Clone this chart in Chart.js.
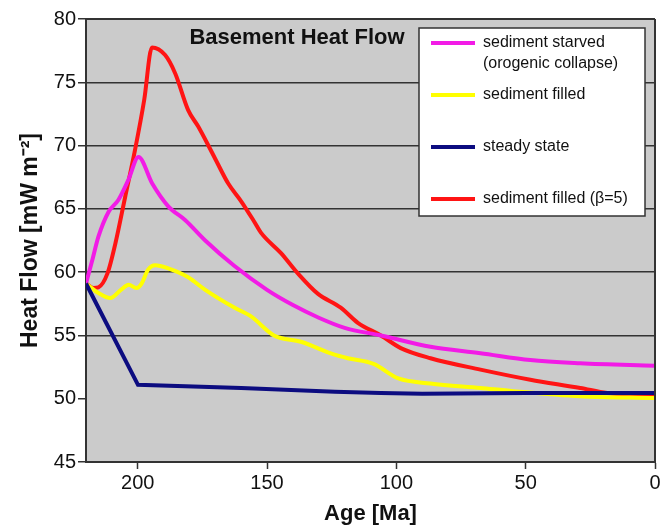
<!DOCTYPE html>
<html><head><meta charset="utf-8">
<script src="https://cdn.jsdelivr.net/npm/chart.js@4.4.1/dist/chart.umd.min.js"></script>
<style>html,body{margin:0;padding:0;background:#fff;}#wrap{width:672px;height:527px;position:relative}</style>
</head><body><div id="wrap"><canvas id="c" width="672" height="527"></canvas></div>
<script>
// ---- data ----
const chartTitle = 'Basement Heat Flow';
const xTitle = 'Age [Ma]';
const yTitle = 'Heat Flow [mW m\u207B\u00B2]';
const xTicks = [200, 150, 100, 50, 0];
const yTicks = [45, 50, 55, 60, 65, 70, 75, 80];

const starvedLabel = ['sediment starved', '(orogenic collapse)'];
const starvedAge = [220, 217.5, 215.2, 211.3, 207.5, 203.6, 199.7, 194.4, 188.2, 181.6, 173.9, 162.7, 150, 140, 130, 120, 106, 86.8, 67.5, 48.2, 28.9, 0];
const starvedHF  = [59.1, 61.0, 62.8, 64.75, 65.7, 67.3, 69.1, 67.0, 65.2, 64.1, 62.5, 60.5, 58.6, 57.4, 56.4, 55.6, 55.0, 54.1, 53.6, 53.05, 52.8, 52.6];

const filledLabel = ['sediment filled'];
const filledAge = [220, 215.2, 210.6, 206.5, 203.5, 200.5, 198.5, 196, 193.2, 188.2, 180.5, 173.9, 162.7, 156.2, 147.3, 136.9, 124.2, 118.8, 108.8, 99.2, 86.8, 67.5, 54.8, 28.9, 0];
const filledHF  = [59.1, 58.35, 57.95, 58.6, 59.0, 58.75, 59.1, 60.2, 60.55, 60.3, 59.6, 58.6, 57.2, 56.5, 55.0, 54.5, 53.5, 53.2, 52.75, 51.6, 51.2, 50.85, 50.6, 50.2, 50.05];

const steadyLabel = ['steady state'];
const steadyAge = [220, 199.9, 160, 123.8, 106, 90, 50, 0];
const steadyHF  = [59.1, 51.1, 50.85, 50.55, 50.45, 50.4, 50.45, 50.45];

const betaLabel = ['sediment filled (\u03B2=5)'];
const betaAge = [220, 217.1, 215.2, 211.7, 208.6, 204.9, 201.1, 197.5, 194.5, 189.4, 185.5, 180.5, 176.6, 170.4, 165, 160, 155, 152.3, 144.6, 138.1, 130.4, 121.5, 114.9, 106, 98.3, 86.8, 67.5, 48.2, 28.9, 18.5, 0];
const betaHF  = [59.1, 58.75, 58.8, 59.9, 62.3, 65.9, 69.6, 73.6, 77.75, 77.15, 75.7, 72.8, 71.5, 69.1, 67.0, 65.6, 64.0, 63.1, 61.5, 59.9, 58.3, 57.2, 56.0, 55.0, 54.0, 53.2, 52.3, 51.5, 50.85, 50.45, 50.2];

// ---- styles ----
const FONT = "'Liberation Sans', Arial, Helvetica, sans-serif";
const colors = {starved: '#f21be6', filled: '#ffff00', steady: '#0c0c80', beta: '#ff1414'};
const toPts = (a, v) => a.map((x, i) => ({x: x, y: v[i]}));

const mk = (lbl, age, hf, col, order, smooth) => ({
  label: lbl.join(' '), legendLines: lbl, data: toPts(age, hf), borderColor: col, backgroundColor: col,
  borderWidth: 4, pointRadius: 0, cubicInterpolationMode: smooth ? 'monotone' : 'default', tension: 0,
  fill: false, order: order
});

const datasets = [
  mk(starvedLabel, starvedAge, starvedHF, colors.starved, 0, true),
  mk(filledLabel, filledAge, filledHF, colors.filled, 0, true),
  mk(steadyLabel, steadyAge, steadyHF, colors.steady, -1, false),
  mk(betaLabel, betaAge, betaHF, colors.beta, 0, true)
];

const decor = {
  id: 'decor',
  beforeDraw(chart) {
    const {ctx, chartArea: a} = chart;
    ctx.save();
    ctx.fillStyle = '#cbcbcb';
    ctx.fillRect(a.left, a.top, a.right - a.left, a.bottom - a.top);
    ctx.restore();
  },
  afterDraw(chart) {
    const {ctx, chartArea: a} = chart;
    ctx.save();
    ctx.strokeStyle = '#333';
    ctx.lineWidth = 2;
    ctx.beginPath();
    ctx.moveTo(a.right, a.top); ctx.lineTo(a.right, a.bottom);
    ctx.moveTo(a.left, a.top); ctx.lineTo(a.right, a.top);
    ctx.stroke();
    // title
    ctx.fillStyle = '#111';
    ctx.font = 'bold 22px ' + FONT;
    ctx.textAlign = 'center';
    ctx.textBaseline = 'middle';
    ctx.fillText(chartTitle, a.left + 211, a.top + 19);
    // legend box
    const bx = a.right - 236, by = a.top + 9, bw = 226, bh = 188;
    ctx.fillStyle = '#ffffff';
    ctx.fillRect(bx, by, bw, bh);
    ctx.strokeStyle = '#333';
    ctx.lineWidth = 1.5;
    ctx.strokeRect(bx, by, bw, bh);
    const rows = [15, 67, 119, 171];
    ctx.font = '16px ' + FONT;
    ctx.textAlign = 'left';
    chart.data.datasets.forEach((ds, i) => {
      const y = by + rows[i];
      ctx.strokeStyle = ds.borderColor;
      ctx.lineWidth = 4;
      ctx.beginPath();
      ctx.moveTo(bx + 12, y); ctx.lineTo(bx + 56, y);
      ctx.stroke();
      ctx.fillStyle = '#111';
      ds.legendLines.forEach((t, j) => ctx.fillText(t, bx + 64, y + j * 21));
    });
    ctx.restore();
  }
};

new Chart(document.getElementById('c'), {
  type: 'line',
  data: {datasets},
  plugins: [decor],
  options: {
    responsive: false, animation: false, devicePixelRatio: 1,
    layout: {padding: {top: 19, right: 17, left: 17, bottom: 0}},
    plugins: {legend: {display: false}, tooltip: {enabled: false}, title: {display: false}},
    scales: {
      x: {
        type: 'linear', min: 0, max: 220, reverse: true,
        afterBuildTicks: s => { s.ticks = xTicks.map(v => ({value: v})); },
        afterFit: s => { s.height = 65; },
        grid: {drawOnChartArea: false, drawTicks: true, tickLength: 7, tickColor: '#333', tickWidth: 1.5},
        border: {color: '#333', width: 2},
        ticks: {font: {family: FONT, size: 20}, color: '#111', padding: 2, maxRotation: 0, autoSkip: false},
        title: {display: true, text: xTitle, color: '#111', font: {family: FONT, size: 22, weight: 'bold'}, padding: {top: 2, bottom: 0}}
      },
      y: {
        min: 45, max: 80,
        afterBuildTicks: s => { s.ticks = yTicks.map(v => ({value: v})); },
        afterFit: s => { s.width = 69; },
        grid: {
          color: c => (c.tick && (c.tick.value === 50 || c.tick.value === 45)) ? 'rgba(0,0,0,0)' : '#333',
          lineWidth: 1.5, tickLength: 8, tickColor: '#333', tickWidth: 1.5
        },
        border: {color: '#333', width: 2},
        ticks: {font: {family: FONT, size: 20}, color: '#111', padding: 2},
        title: {display: true, text: yTitle, color: '#111', font: {family: FONT, size: 23, weight: 'bold'}, padding: {top: 0, bottom: 4}}
      }
    }
  }
});
</script>
</body></html>
